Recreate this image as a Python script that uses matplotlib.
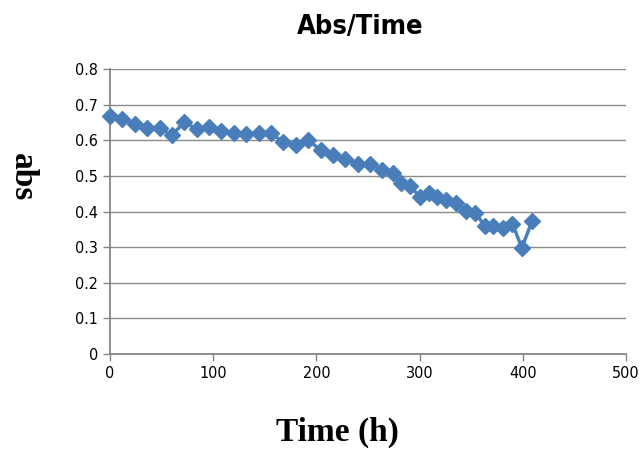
import matplotlib.pyplot as plt
import numpy as np

# data
time_h = [0, 12, 24, 36, 48, 60, 72, 84, 96, 108, 120, 132, 144, 156, 168, 180, 192,
          204, 216, 228, 240, 252, 264, 274, 282, 291, 300, 309, 317, 326, 335, 345,
          354, 363, 371, 381, 390, 399, 409]
absorb = [0.668, 0.661, 0.646, 0.635, 0.633, 0.615, 0.650, 0.632, 0.638, 0.626, 0.620,
          0.617, 0.620, 0.620, 0.594, 0.587, 0.600, 0.573, 0.558, 0.548, 0.533, 0.533,
          0.517, 0.508, 0.480, 0.472, 0.441, 0.451, 0.441, 0.433, 0.424, 0.401, 0.396,
          0.360, 0.360, 0.355, 0.366, 0.298, 0.373]
yticks = [0, 0.1, 0.2, 0.3, 0.4, 0.5, 0.6, 0.7, 0.8]
xticks = [0, 100, 200, 300, 400, 500]

narrow = ['DejaVu Sans']
serif = ['Liberation Serif', 'DejaVu Serif']

fig = plt.figure(figsize=(6.42, 4.58), dpi=100)
ax = fig.add_axes([110/642, 1-354/458, 516/642, 285/458])

ax.plot(time_h, absorb, color='#4a7ebb', lw=2.5, marker='D', markersize=8.5,
        markeredgecolor='#4a7ebb', clip_on=False, zorder=3)

ax.set_xlim(0, 500)
ax.set_ylim(0, 0.8)
ax.set_xticks(xticks)
ax.set_yticks(yticks)
ax.set_xticklabels([str(t) for t in xticks], family=narrow, stretch='condensed', fontsize=11.5)
ax.set_yticklabels([f'{t:g}' for t in yticks], family=narrow, stretch='condensed', fontsize=11.5)
ax.yaxis.grid(True, color='#8c8c8c', lw=1)
ax.set_axisbelow(True)
for s in ['top', 'right']:
    ax.spines[s].set_visible(False)
for s in ['left', 'bottom']:
    ax.spines[s].set_color('#868686')
    ax.spines[s].set_linewidth(1.3)
ax.tick_params(direction='out', length=5, color='#868686', width=1)

fig.text(360/642, 1-27/458, 'Abs/Time', ha='center', va='center',
         family=narrow, stretch='condensed', fontsize=19.5, fontweight='bold')
fig.text(337/642, 1-432/458, 'Time (h)', ha='center', va='center',
         family=serif, fontsize=24, fontweight='bold')
fig.text(22/642, 1-177/458, 'abs', ha='center', va='center', rotation=270,
         family=serif, fontsize=24, fontweight='bold')

fig.savefig('out.png', dpi=100)
